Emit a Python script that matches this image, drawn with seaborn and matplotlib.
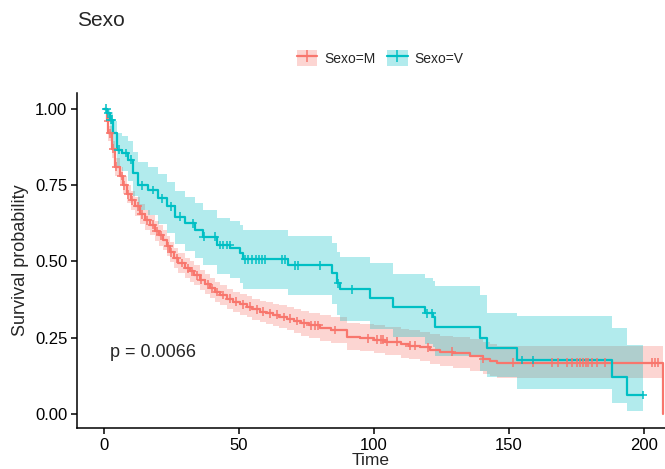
import numpy as np
import pandas as pd
import matplotlib
matplotlib.use("Agg")
import matplotlib.pyplot as plt
from matplotlib.lines import Line2D
from matplotlib.patches import Patch
import seaborn as sns

# Kaplan-Meier estimates by sex: step knots (time, survival, lower / upper 95% CI)
m_time = [0, 1.0, 1.6, 2.8, 4.1, 5.9, 7.0, 8.4, 10.0, 11.5, 13.5, 15.2, 17.0, 18.9, 20.5,
          22.0, 23.2, 24.4, 26.0, 27.5, 30.0, 31.9, 33.5, 35.6, 37.5, 39.3, 41.0, 43.0,
          45.5, 47.9, 50.5, 52.8, 55.0, 57.8, 60.0, 62.7, 65.0, 67.7, 70.5, 73.0, 76.0,
          80.0, 84.0, 89.9, 95.0, 100.0, 104.0, 110.0, 113.0, 117.0, 120.7, 124.4, 129.4,
          135.6, 140.5, 143.0, 145.4, 207.0]
m_surv = [1.0, 0.96, 0.92, 0.87, 0.81, 0.78, 0.75, 0.72, 0.70, 0.68, 0.655, 0.635, 0.62,
          0.60, 0.585, 0.57, 0.55, 0.53, 0.51, 0.495, 0.478, 0.467, 0.455, 0.44, 0.425,
          0.412, 0.40, 0.39, 0.378, 0.368, 0.36, 0.352, 0.343, 0.335, 0.33, 0.325, 0.318,
          0.312, 0.305, 0.297, 0.29, 0.282, 0.275, 0.253, 0.248, 0.243, 0.237, 0.23, 0.224,
          0.218, 0.21, 0.204, 0.199, 0.19, 0.18, 0.174, 0.168, 0.0]
m_lower = [1.0, 0.935, 0.895, 0.84, 0.78, 0.75, 0.72, 0.69, 0.67, 0.65, 0.623, 0.603, 0.588,
           0.567, 0.552, 0.537, 0.517, 0.497, 0.477, 0.462, 0.445, 0.434, 0.422, 0.407, 0.393,
           0.38, 0.368, 0.357, 0.345, 0.335, 0.326, 0.318, 0.309, 0.3, 0.295, 0.289, 0.281,
           0.274, 0.266, 0.257, 0.249, 0.24, 0.232, 0.21, 0.205, 0.2, 0.193, 0.185, 0.179,
           0.172, 0.164, 0.157, 0.151, 0.141, 0.131, 0.125, 0.119, 0.119]
m_upper = [1.0, 0.98, 0.945, 0.895, 0.84, 0.81, 0.78, 0.75, 0.73, 0.71, 0.687, 0.667, 0.652,
           0.633, 0.618, 0.603, 0.583, 0.563, 0.543, 0.528, 0.511, 0.5, 0.488, 0.473, 0.458,
           0.445, 0.433, 0.423, 0.411, 0.401, 0.394, 0.387, 0.378, 0.371, 0.366, 0.362, 0.356,
           0.351, 0.345, 0.338, 0.332, 0.326, 0.319, 0.298, 0.294, 0.29, 0.285, 0.279, 0.274,
           0.269, 0.262, 0.257, 0.253, 0.245, 0.236, 0.23, 0.224, 0.224]
m_censor = [1.5, 2.2, 3.3, 4.5, 6.5, 7.5, 9.0, 10.5, 12.5, 14.0, 16.0, 18.0, 19.5, 21.0,
            23.8, 25.0, 27.0, 29.0, 31.0, 32.5, 34.5, 36.0, 38.5, 40.0, 42.0, 44.0, 46.5,
            49.0, 51.5, 54.0, 56.5, 59.0, 61.5, 64.0, 66.5, 69.0, 71.5, 74.0, 76.5, 78.0,
            79.4, 85.5, 97.8, 101.0, 102.5, 103.5, 104.7, 108.4, 113.3, 115.2, 120.0, 128.8,
            140.5, 151.6, 159.0, 165.8, 168.3, 171.4, 173.2, 175.1, 176.3, 177.5, 178.5,
            179.4, 180.6, 182.5, 185.6, 202.8, 204.1, 205.3]

v_time = [0, 1.0, 2.2, 3.5, 4.7, 6.5, 9.0, 10.9, 12.7, 16.4, 20.1, 23.2, 26.3, 30.0, 33.7,
          36.8, 41.7, 46.7, 50.4, 51.6, 68.3, 84.3, 86.2, 87.4, 98.5, 107.2, 118.9, 122.0,
          122.6, 139.3, 141.7, 152.8, 188.0, 193.8, 199.5]
v_surv = [1.0, 0.985, 0.964, 0.92, 0.866, 0.855, 0.833, 0.79, 0.75, 0.734, 0.707, 0.68,
          0.647, 0.625, 0.603, 0.581, 0.554, 0.543, 0.527, 0.507, 0.487, 0.461, 0.428,
          0.409, 0.379, 0.352, 0.33, 0.319, 0.286, 0.248, 0.215, 0.177, 0.12, 0.062, 0.062]
v_lower = [1.0, 0.96, 0.925, 0.87, 0.81, 0.795, 0.765, 0.715, 0.67, 0.652, 0.622, 0.593,
           0.557, 0.534, 0.511, 0.487, 0.459, 0.447, 0.43, 0.41, 0.39, 0.36, 0.325, 0.305,
           0.28, 0.252, 0.228, 0.218, 0.19, 0.14, 0.12, 0.082, 0.035, 0.011, 0.011]
v_upper = [1.0, 1.0, 0.99, 0.96, 0.92, 0.91, 0.895, 0.86, 0.825, 0.81, 0.785, 0.76, 0.73,
           0.71, 0.69, 0.668, 0.643, 0.633, 0.618, 0.603, 0.582, 0.56, 0.53, 0.514, 0.495,
           0.46, 0.445, 0.435, 0.42, 0.39, 0.33, 0.32, 0.281, 0.226, 0.226]
v_censor = [0.8, 1.5, 2.5, 3.0, 5.5, 8.0, 10.0, 14.0, 18.0, 21.5, 25.0, 28.0, 33.0, 36.9,
            41.1, 43.0, 44.2, 45.5, 46.5, 52.2, 53.5, 55.0, 56.2, 57.5, 58.5, 59.6, 65.8,
            67.0, 70.7, 71.9, 80.0, 86.7, 91.7, 119.5, 121.4, 154.7, 159.0, 199.5]

groups = ["Sexo=M", "Sexo=V"]
colors = {"Sexo=M": "#F8766D", "Sexo=V": "#00BFC4"}
x_ticks = [0, 50, 100, 150, 200]
y_ticks = [0.0, 0.25, 0.50, 0.75, 1.0]
y_tick_labels = ["0.00", "0.25", "0.50", "0.75", "1.00"]
p_label = "p = 0.0066"

curves = {
    "Sexo=M": (m_time, m_surv, m_lower, m_upper, m_censor),
    "Sexo=V": (v_time, v_surv, v_lower, v_upper, v_censor),
}

steps = []
marks = []
for g, (t, s, lo, hi, cen) in curves.items():
    steps.append(pd.DataFrame({"time": t, "surv": s, "lower": lo, "upper": hi, "group": g}))
    t_arr = np.asarray(t)
    s_arr = np.asarray(s)
    idx = np.searchsorted(t_arr, cen, side="right") - 1
    marks.append(pd.DataFrame({"time": cen, "surv": s_arr[idx], "group": g}))
steps = pd.concat(steps, ignore_index=True)
marks = pd.concat(marks, ignore_index=True)

sns.set_style("ticks")
plt.rcParams["font.family"] = ["Liberation Sans", "DejaVu Sans"]

fig = plt.figure(figsize=(6.65, 4.69), dpi=100)
ax = fig.add_axes([77 / 665, 1 - 428 / 469, (665 - 77) / 665, (428 - 93) / 469])

# confidence bands
for g in groups:
    d = steps[steps.group == g]
    ax.fill_between(d.time, d.lower, d.upper, step="post", color=colors[g],
                    alpha=0.3, linewidth=0)

# survival step curves
sns.lineplot(data=steps, x="time", y="surv", hue="group", palette=colors,
             drawstyle="steps-post", estimator=None, sort=False, linewidth=1.6,
             legend=False, ax=ax)

# censoring marks
sns.scatterplot(data=marks, x="time", y="surv", hue="group", palette=colors,
                marker="+", s=40, linewidth=1.1, legend=False, ax=ax, zorder=3)

ax.text(2.2, 0.20, p_label, fontsize=13, va="center", ha="left")

ax.set_xlim(-10, 207.8)
ax.set_ylim(-0.046, 1.052)
ax.set_xticks(x_ticks)
ax.set_yticks(y_ticks)
ax.set_yticklabels(y_tick_labels)
ax.tick_params(axis="both", labelsize=12, length=4, width=1.1, color="black",
               labelcolor="black", direction="out", pad=3)
ax.set_xlabel("Time", fontsize=12.5, labelpad=0)
ax.set_ylabel("Survival probability", fontsize=13, labelpad=4)
for side in ["top", "right"]:
    ax.spines[side].set_visible(False)
for side in ["left", "bottom"]:
    ax.spines[side].set_color("black")
    ax.spines[side].set_linewidth(1.1)

handles = [(Patch(facecolor=colors[g], alpha=0.3, linewidth=0),
            Line2D([], [], color=colors[g], linewidth=1.6, marker="+",
                   markersize=8, markeredgewidth=1.1)) for g in groups]
fig.legend(handles, groups, loc="center", bbox_to_anchor=(380 / 665, 1 - 58 / 469),
           ncol=2, frameon=False, fontsize=10, handlelength=1.5, handleheight=1.5,
           columnspacing=0.8, handletextpad=0.5)

fig.text(77 / 665, 1 - 20 / 469, "Sexo", fontsize=15, va="center", ha="left")

fig.savefig("out.png", dpi=100)
